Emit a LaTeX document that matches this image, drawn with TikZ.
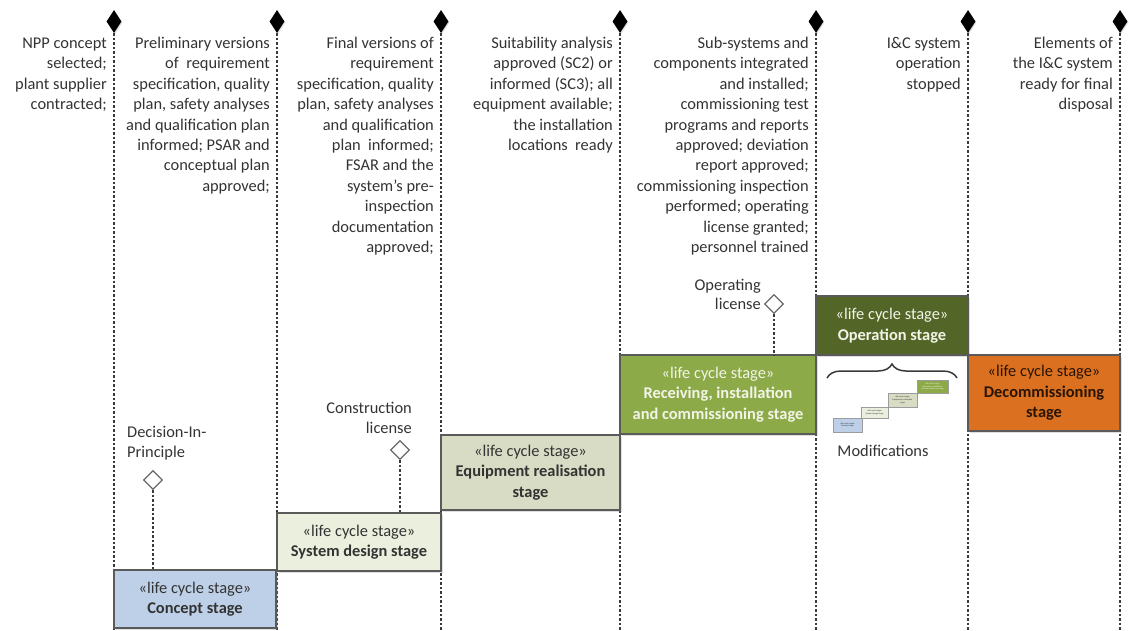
\documentclass[tikz,border=0pt]{standalone}
\usepackage{fontspec}
\setmainfont{Carlito}
\usetikzlibrary{shapes.geometric,decorations.pathreplacing,shadows}

\definecolor{txtgray}{HTML}{333333}
\definecolor{linegray}{HTML}{3A3A3A}
\definecolor{boxborder}{HTML}{5A5A5A}
\definecolor{gategray}{HTML}{6A6A6A}
\definecolor{conceptfill}{HTML}{BDD0E8}
\definecolor{designfill}{HTML}{EBF0DE}
\definecolor{equipfill}{HTML}{D9DCC4}
\definecolor{receivefill}{HTML}{8DAA48}
\definecolor{operfill}{HTML}{536628}
\definecolor{decomfill}{HTML}{DA7020}
\definecolor{lighttext}{HTML}{F2F4E8}
\definecolor{darktext}{HTML}{2A1505}

\begin{document}
\begin{tikzpicture}[x=1pt,y=-1pt,
  every node/.style={font=\fontsize{16.4}{20.4}\selectfont, text=txtgray},
  lifeline/.style={draw=linegray, line width=2.2pt, dash pattern=on 2.5pt off 2pt},
  milestone/.style={diamond, fill=black, draw=none, minimum width=15pt,
    minimum height=23pt, inner sep=0pt,
    drop shadow={shadow xshift=1pt, shadow yshift=-1pt, opacity=0.25}},
  gate/.style={diamond, fill=white, draw=gategray, line width=1.2pt,
    minimum width=19pt, minimum height=19pt, inner sep=0pt},
  stagebox/.style={rectangle, draw=boxborder, line width=1.5pt, align=center,
    inner sep=0pt, outer sep=0pt,
    drop shadow={shadow xshift=1.5pt, shadow yshift=-1.5pt, opacity=0.25}},
  criteria/.style={anchor=north east, align=right, inner sep=0pt},
  minibox/.style={rectangle, draw=boxborder!60, line width=0.4pt, align=center,
    inner sep=0pt, outer sep=0pt, font=\fontsize{2.2}{2.8}\selectfont}]

\useasboundingbox (0,0) rectangle (1129,630);

% milestones on top of the lifelines
\foreach \i/\x in {1/114,2/277,3/441,4/620,5/816,6/968,7/1120}{
  \node[milestone] (ms\i) at (\x,21.5) {};
  \coordinate (end\i) at (\x,630);
  \draw[lifeline] (ms\i.south) -- (end\i);
}

% exit criteria of each stage
\node[criteria] (c1) at (107,34) {\strut NPP concept\\selected;\\plant supplier\\contracted;};
\node[criteria] (c2) at (270,34) {\strut Preliminary versions\\of~ requirement\\specification, quality\\plan, safety analyses\\and qualification plan\\informed; PSAR and\\conceptual plan\\approved;};
\node[criteria] (c3) at (434,34) {\strut Final versions of\\requirement\\specification, quality\\plan, safety analyses\\and qualification\\plan~ informed;\\FSAR and the\\system’s pre-\\inspection\\documentation\\approved;};
\node[criteria] (c4) at (613,34) {\strut Suitability analysis\\approved (SC2) or\\informed (SC3); all\\equipment available;\\the installation\\locations~ ready};
\node[criteria] (c5) at (809,34) {\strut Sub-systems and\\components integrated\\and installed;\\commissioning test\\programs and reports\\approved; deviation\\report approved;\\commissioning inspection\\performed; operating\\license granted;\\personnel trained};
\node[criteria] (c6) at (961,34) {\strut I\&C system\\operation\\stopped};
\node[criteria] (c7) at (1113,34) {\strut Elements of\\the I\&C system\\ready for final\\disposal};

% life cycle stages
\node[stagebox, fill=conceptfill, minimum width=162pt, minimum height=58pt] (concept) at (195,599)
  {«life cycle stage»\\\textbf{Concept stage}};
\node[stagebox, fill=designfill, minimum width=164pt, minimum height=58pt] (design) at (359,542)
  {«life cycle stage»\\\textbf{System design stage}};
\node[stagebox, fill=equipfill, minimum width=179pt, minimum height=75pt] (equip) at (530.5,472.5)
  {«life cycle stage»\\\textbf{Equipment realisation}\\\textbf{stage}};
\node[stagebox, fill=receivefill, minimum width=196pt, minimum height=79pt, text=lighttext] (receive) at (718,394.5)
  {«life cycle stage»\\\textbf{Receiving, installation}\\\textbf{and commissioning stage}};
\node[stagebox, fill=operfill, minimum width=152pt, minimum height=59pt, text=lighttext] (oper) at (892,325.5)
  {«life cycle stage»\\\textbf{Operation stage}};
\node[stagebox, fill=decomfill, minimum width=152pt, minimum height=76pt, text=darktext] (decom) at (1044,393)
  {«life cycle stage»\\\textbf{Decommissioning}\\\textbf{stage}};

% decision gates
\node[gate] (dip) at (153,480) {};
\node[anchor=north west, align=left, inner sep=0pt] (diplbl) at (127,423) {\strut Decision-In-\\Principle};
\draw[lifeline] (dip.south) -- (dip.south |- concept.north);

\node[gate] (cl) at (400,450) {};
\node[anchor=north east, align=right, inner sep=0pt] (cllbl) at (412,399) {\strut Construction\\license};
\draw[lifeline] (cl.south) -- (cl.south |- design.north);

\node[gate] (ol) at (774,304) {};
\node[anchor=north east, align=right, inner sep=0pt, font=\fontsize{16.4}{19}\selectfont] (ollbl) at (761,277) {\strut Operating\\license};
\draw[lifeline] (ol.south) -- (ol.south |- receive.north);

% modifications during operation
\coordinate (brl) at (827,378);
\coordinate (brr) at (957,378);
\draw[decorate, decoration={brace, amplitude=14pt}, line width=1.5pt, draw=linegray] (brl) -- (brr);

\node[minibox, fill=conceptfill, minimum width=29pt, minimum height=14pt] (mini1) at (847.5,425) {«life cycle stage»\\Concept stage};
\node[minibox, fill=designfill, minimum width=27pt, minimum height=11pt] (mini2) at (874.5,412.5) {«life cycle stage»\\System design stage};
\node[minibox, fill=equipfill, minimum width=29pt, minimum height=14pt] (mini3) at (902.5,400) {«life cycle stage»\\Equipment realisation\\stage};
\node[minibox, fill=receivefill, minimum width=31pt, minimum height=13pt, text=lighttext] (mini4) at (932.5,386.5) {«life cycle stage»\\Receiving, installation\\and commissioning stage};

\node (modlbl) at (883,451) {Modifications};

\end{tikzpicture}
\end{document}
